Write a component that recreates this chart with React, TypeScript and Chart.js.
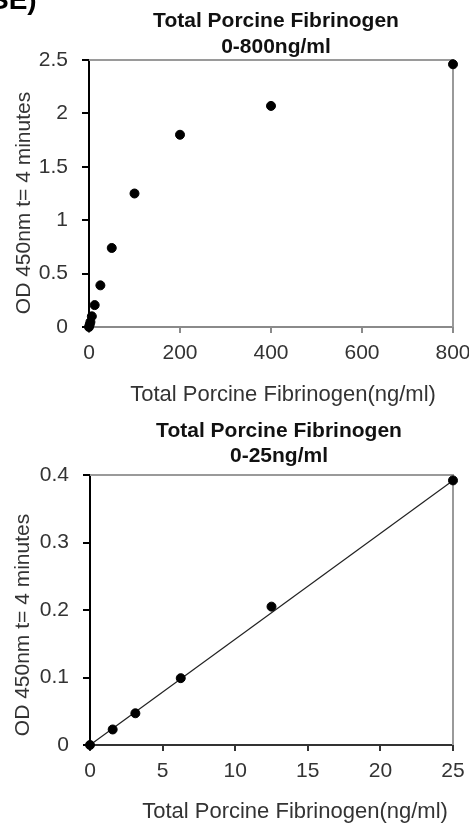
import React, { useEffect, useRef } from "react";
import { Chart, registerables } from "chart.js";
Chart.register(...registerables);

// ---- data ----
const titleLine1 = "Total Porcine Fibrinogen";
const topTitleLine2 = "0-800ng/ml";
const lowTitleLine2 = "0-25ng/ml";
const xAxisTitle = "Total Porcine Fibrinogen(ng/ml)";
const yAxisTitle = "OD 450nm t= 4 minutes";
const cornerText = "SE)";

const topConc = [0, 1.5625, 3.125, 6.25, 12.5, 25, 50, 100, 200, 400, 800];
const topOD = [0, 0.022, 0.047, 0.1, 0.205, 0.39, 0.74, 1.25, 1.8, 2.07, 2.46];
const topXRange = [0, 800, 200];
const topYRange = [0, 2.5, 0.5];

const lowConc = [0, 1.5625, 3.125, 6.25, 12.5, 25];
const lowOD = [0, 0.023, 0.047, 0.099, 0.205, 0.392];
const trendConc = [0, 25];
const trendOD = [0, 0.392];
const lowXRange = [0, 25, 5];
const lowYRange = [0, 0.4, 0.1];

const FONT = "'Liberation Sans', Arial, sans-serif";
const W = 469;
const H = 412;

type Cfg = {
  xs: number[];
  ys: number[];
  trend?: { xs: number[]; ys: number[] };
  xr: number[];
  yr: number[];
  line2: string;
  pad: { left: number; right: number; top: number; bottom: number };
  yWidth: number;
  xHeight: number;
  xAxisColor: string;
  titleX: number;
  titleBase: [number, number];
  xTitleX: number;
  xTitleBase: number;
  yTitleX: number;
  yTitleY: number;
  corner?: boolean;
};

const fmt = (v: any) => String(Number(Number(v).toFixed(3)));

function makeChart(canvas: HTMLCanvasElement, c: Cfg) {
  const textPlugin = {
    id: "texts",
    beforeDatasetsDraw(chart: any) {
      const { ctx, chartArea } = chart;
      ctx.save();
      ctx.strokeStyle = "#9a9a9a";
      ctx.lineWidth = 2;
      ctx.beginPath();
      ctx.moveTo(chartArea.left, chartArea.top);
      ctx.lineTo(chartArea.right, chartArea.top);
      ctx.lineTo(chartArea.right, chartArea.bottom);
      ctx.stroke();
      ctx.restore();
    },
    afterDraw(chart: any) {
      const { ctx } = chart;
      ctx.save();
      ctx.fillStyle = "#111";
      ctx.textAlign = "center";
      ctx.textBaseline = "alphabetic";
      ctx.font = `bold 21px ${FONT}`;
      ctx.fillText(titleLine1, c.titleX, c.titleBase[0]);
      ctx.fillText(c.line2, c.titleX, c.titleBase[1]);
      ctx.fillStyle = "#333";
      ctx.font = `22px ${FONT}`;
      ctx.fillText(xAxisTitle, c.xTitleX, c.xTitleBase);
      ctx.save();
      ctx.translate(c.yTitleX, c.yTitleY);
      ctx.rotate(-Math.PI / 2);
      ctx.textBaseline = "middle";
      ctx.font = `21px ${FONT}`;
      ctx.fillText(yAxisTitle, 0, 0);
      ctx.restore();
      if (c.corner) {
        ctx.fillStyle = "#000";
        ctx.textAlign = "left";
        ctx.font = `bold 28px ${FONT}`;
        ctx.fillText(cornerText, -10, 9);
      }
      ctx.restore();
    },
  };

  const datasets: any[] = [
    {
      type: "scatter",
      data: c.xs.map((x, i) => ({ x, y: c.ys[i] })),
      backgroundColor: "#000",
      borderColor: "#000",
      pointRadius: 4.5,
      pointHoverRadius: 4.5,
      clip: false,
    },
  ];
  if (c.trend) {
    datasets.push({
      type: "line",
      data: c.trend.xs.map((x, i) => ({ x, y: c.trend!.ys[i] })),
      borderColor: "#222",
      borderWidth: 1.2,
      pointRadius: 0,
      fill: false,
      clip: false,
    });
  }

  return new Chart(canvas, {
    type: "scatter",
    data: { datasets },
    options: {
      animation: false,
      responsive: false,
      devicePixelRatio: 1,
      layout: { padding: c.pad },
      plugins: {
        legend: { display: false },
        tooltip: { enabled: false },
        title: { display: false },
      },
      scales: {
        x: {
          type: "linear",
          min: c.xr[0],
          max: c.xr[1],
          ticks: {
            stepSize: c.xr[2],
            font: { size: 21, family: FONT },
            color: "#333",
            padding: 8,
            maxRotation: 0,
            callback: fmt,
          },
          grid: {
            display: true,
            drawOnChartArea: false,
            drawTicks: true,
            tickLength: 6,
            color: c.xAxisColor,
            lineWidth: 2,
          },
          border: { display: true, color: c.xAxisColor, width: 2 },
          afterFit: (s: any) => {
            s.height = c.xHeight;
            s.paddingLeft = 0;
            s.paddingRight = 0;
          },
        },
        y: {
          type: "linear",
          min: c.yr[0],
          max: c.yr[1],
          ticks: {
            stepSize: c.yr[2],
            font: { size: 21, family: FONT },
            color: "#333",
            padding: 14,
            callback: fmt,
          },
          grid: {
            display: true,
            drawOnChartArea: false,
            drawTicks: true,
            tickLength: 7,
            color: "#000",
            lineWidth: 2,
          },
          border: { display: true, color: "#000", width: 2 },
          afterFit: (s: any) => {
            s.width = c.yWidth;
            s.paddingTop = 0;
            s.paddingBottom = 0;
          },
        },
      },
    } as any,
    plugins: [textPlugin],
  });
}

function Panel({ cfg, top }: { cfg: Cfg; top: number }) {
  const ref = useRef<HTMLCanvasElement>(null);
  useEffect(() => {
    if (!ref.current) return;
    const ch = makeChart(ref.current, cfg);
    return () => ch.destroy();
  }, []);
  return (
    <canvas
      ref={ref}
      width={W}
      height={H}
      style={{ position: "absolute", left: 0, top, width: W, height: H, display: "block" }}
    />
  );
}

const topCfg: Cfg = {
  xs: topConc,
  ys: topOD,
  xr: topXRange,
  yr: topYRange,
  line2: topTitleLine2,
  pad: { left: 0, right: 16, top: 60, bottom: H - 327 - 60 },
  yWidth: 89,
  xHeight: 60,
  xAxisColor: "#8a8a8a",
  titleX: 276,
  titleBase: [27, 53],
  xTitleX: 283,
  xTitleBase: 401,
  yTitleX: 24,
  yTitleY: 203,
  corner: true,
};

const lowCfg: Cfg = {
  xs: lowConc,
  ys: lowOD,
  trend: { xs: trendConc, ys: trendOD },
  xr: lowXRange,
  yr: lowYRange,
  line2: lowTitleLine2,
  pad: { left: 0, right: 16, top: 63, bottom: H - 333 - 60 },
  yWidth: 90,
  xHeight: 60,
  xAxisColor: "#333",
  titleX: 279,
  titleBase: [25, 50],
  xTitleX: 295,
  xTitleBase: 406,
  yTitleX: 23,
  yTitleY: 213,
};

export default function App() {
  return (
    <div style={{ position: "absolute", left: 0, top: 0, width: W, height: 824, background: "#fff", overflow: "hidden" }}>
      <Panel cfg={topCfg} top={0} />
      <Panel cfg={lowCfg} top={H} />
    </div>
  );
}
